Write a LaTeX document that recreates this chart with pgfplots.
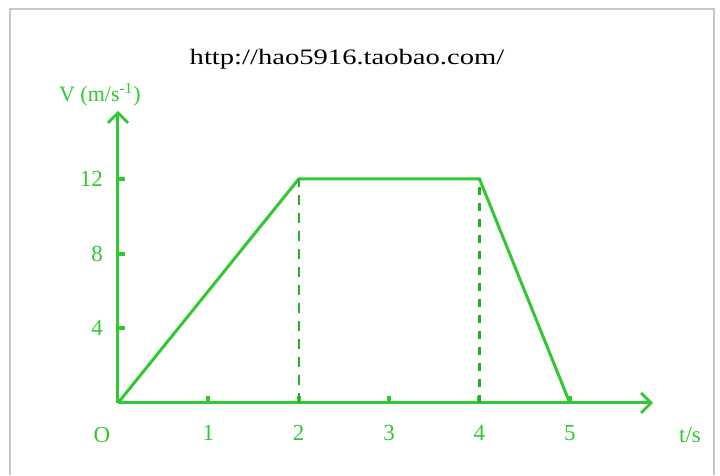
\documentclass[border=0pt]{standalone}
\usepackage{pgfplots}
\pgfplotsset{compat=1.18}
\usetikzlibrary{arrows.meta}
\usepackage{fontspec}
\setmainfont{Liberation Serif}
\definecolor{vgreen}{RGB}{50,200,50}
\definecolor{dgreen}{RGB}{40,175,40}

\begin{document}
\begin{tikzpicture}
    % page = 720x475 px, 1 px = 0.5pt
    \fill[white] (0,0) rectangle (360pt,237.5pt);
    \draw[black!22, line width=1pt] (5pt,0) -- (5pt,233pt) -- (357pt,233pt) -- (357pt,0);
    \begin{axis}[
        at={(59pt,36pt)}, anchor=origin,
        scale only axis,
        width=267.5pt, height=146pt,
        xmin=0, xmax=5.92, ymin=0, ymax=15.64,
        clip=false,
        axis lines=left,
        axis line style={vgreen, line width=1.5pt,
            -{Straight Barb[length=5pt, width=10pt, line width=1.4pt]}},
        xtick={1,2,3,4,5},
        ytick={4,8,12},
        tick align=inside,
        major tick length=3.5pt,
        tick style={vgreen, line width=2pt},
        /pgf/number format/assume math mode=true,
        tick label style={font=\fontsize{11.5}{13}\selectfont, text=vgreen},
        xticklabel style={yshift=-7.5pt},
        yticklabel style={xshift=-4pt},
    ]
        \addplot[vgreen, line width=1.5pt] coordinates {(0,0) (2,12) (4,12) (5,0)};
        \addplot[dgreen, line width=1.2pt, dash pattern=on 5pt off 4pt] coordinates {(2,0) (2,12)};
        \addplot[dgreen, line width=1.2pt, dash pattern=on 4pt off 4pt] coordinates {(4,0) (4,12)};
    \end{axis}
    \node[text=vgreen, font=\fontsize{11.5}{13}\selectfont] at (51pt,20pt) {O};
    \node[text=vgreen, font=\fontsize{11.5}{13}\selectfont] at (345pt,20pt) {t/s};
    \node[text=vgreen, font=\fontsize{11}{13}\selectfont, anchor=west] at (26pt,190pt) {V (m/s\textsuperscript{-1})};
    \node[font=\fontsize{11}{13}\selectfont, xscale=1.3] at (173.5pt,208pt) {http://hao5916.taobao.com/};
\end{tikzpicture}
\end{document}
